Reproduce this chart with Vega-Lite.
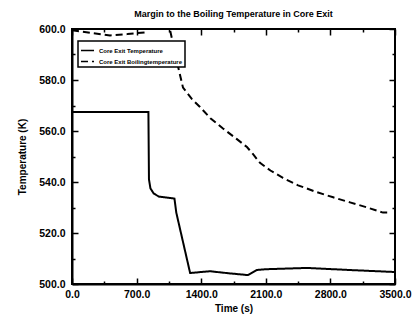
{
  "$schema": "https://vega.github.io/schema/vega-lite/v6.json",
  "autosize": "none",
  "width": 323,
  "height": 255,
  "padding": {"left": 72, "top": 29, "right": 19, "bottom": 36},
  "background": "white",
  "title": {"text": "Margin to the Boiling Temperature in Core Exit", "font": "Liberation Sans", "fontSize": 9, "fontWeight": "bold", "color": "black", "offset": -5, "anchor": "middle", "frame": "group"},
  "config": {
    "view": {"stroke": "black", "strokeWidth": 2},
    "legend": {"strokeColor": "black", "strokeWidth": 1.5},
    "axis": {"grid": false, "domainColor": "black", "domainWidth": 2, "tickColor": "black", "tickWidth": 1.5, "labelColor": "black", "labelFont": "Liberation Sans", "labelFontWeight": "bold", "labelFontSize": 10.5, "titleFont": "Liberation Sans", "titleFontWeight": "bold", "titleFontSize": 10, "titleColor": "black"}
  },
  "datasets": {
    "curves": [
      {"t": 0, "T": 567.5, "s": "Core Exit Temperature"},
      {"t": 828, "T": 567.5, "s": "Core Exit Temperature"},
      {"t": 834, "T": 541, "s": "Core Exit Temperature"},
      {"t": 850, "T": 537.5, "s": "Core Exit Temperature"},
      {"t": 885, "T": 535.5, "s": "Core Exit Temperature"},
      {"t": 940, "T": 534.3, "s": "Core Exit Temperature"},
      {"t": 1000, "T": 534, "s": "Core Exit Temperature"},
      {"t": 1110, "T": 533.5, "s": "Core Exit Temperature"},
      {"t": 1130, "T": 528, "s": "Core Exit Temperature"},
      {"t": 1280, "T": 504.3, "s": "Core Exit Temperature"},
      {"t": 1400, "T": 504.7, "s": "Core Exit Temperature"},
      {"t": 1495, "T": 505, "s": "Core Exit Temperature"},
      {"t": 1700, "T": 504.2, "s": "Core Exit Temperature"},
      {"t": 1907, "T": 503.5, "s": "Core Exit Temperature"},
      {"t": 2004, "T": 505.5, "s": "Core Exit Temperature"},
      {"t": 2100, "T": 505.8, "s": "Core Exit Temperature"},
      {"t": 2546, "T": 506.3, "s": "Core Exit Temperature"},
      {"t": 3000, "T": 505.5, "s": "Core Exit Temperature"},
      {"t": 3500, "T": 504.7, "s": "Core Exit Temperature"},
      {"t": 0, "T": 599.5, "s": "Core Exit Boilingtemperature"},
      {"t": 200, "T": 598.5, "s": "Core Exit Boilingtemperature"},
      {"t": 412, "T": 597.5, "s": "Core Exit Boilingtemperature"},
      {"t": 600, "T": 598, "s": "Core Exit Boilingtemperature"},
      {"t": 800, "T": 598.7, "s": "Core Exit Boilingtemperature"},
      {"t": 825, "T": 604, "s": "Core Exit Boilingtemperature"},
      {"t": 950, "T": 606, "s": "Core Exit Boilingtemperature"},
      {"t": 1060, "T": 600, "s": "Core Exit Boilingtemperature"},
      {"t": 1138, "T": 587, "s": "Core Exit Boilingtemperature"},
      {"t": 1203, "T": 577, "s": "Core Exit Boilingtemperature"},
      {"t": 1300, "T": 572.5, "s": "Core Exit Boilingtemperature"},
      {"t": 1387, "T": 569.4, "s": "Core Exit Boilingtemperature"},
      {"t": 1500, "T": 565, "s": "Core Exit Boilingtemperature"},
      {"t": 1636, "T": 561, "s": "Core Exit Boilingtemperature"},
      {"t": 1780, "T": 557, "s": "Core Exit Boilingtemperature"},
      {"t": 1896, "T": 553.7, "s": "Core Exit Boilingtemperature"},
      {"t": 1960, "T": 551, "s": "Core Exit Boilingtemperature"},
      {"t": 2037, "T": 547.5, "s": "Core Exit Boilingtemperature"},
      {"t": 2150, "T": 544.5, "s": "Core Exit Boilingtemperature"},
      {"t": 2286, "T": 541.6, "s": "Core Exit Boilingtemperature"},
      {"t": 2450, "T": 538.7, "s": "Core Exit Boilingtemperature"},
      {"t": 2654, "T": 536, "s": "Core Exit Boilingtemperature"},
      {"t": 2830, "T": 534, "s": "Core Exit Boilingtemperature"},
      {"t": 3012, "T": 532, "s": "Core Exit Boilingtemperature"},
      {"t": 3200, "T": 530, "s": "Core Exit Boilingtemperature"},
      {"t": 3370, "T": 528, "s": "Core Exit Boilingtemperature"},
      {"t": 3445, "T": 528, "s": "Core Exit Boilingtemperature"}
    ]
  },
  "data": {"name": "curves"},
  "layer": [
    {
      "mark": {"type": "line", "color": "black", "strokeWidth": 2, "clip": true},
      "encoding": {
        "x": {"field": "t", "type": "quantitative", "scale": {"domain": [0, 3500], "nice": false},
          "axis": {"orient": "bottom", "title": "Time (s)", "titlePadding": 1, "values": [0, 350, 700, 1050, 1400, 1750, 2100, 2450, 2800, 3150, 3500],
            "labelExpr": "datum.value % 700 === 0 ? format(datum.value, '.1f') : ''",
            "tickSize": {"condition": {"test": "datum.value % 700 === 0", "value": -6}, "value": -3},
            "labelPadding": 11, "labelOverlap": false, "labelFlush": false}},
        "y": {"field": "T", "type": "quantitative", "scale": {"domain": [500, 600], "nice": false, "zero": false},
          "axis": {"orient": "left", "title": "Temperature (K)", "titlePadding": 11, "values": [500, 510, 520, 530, 540, 550, 560, 570, 580, 590, 600],
            "labelExpr": "datum.value % 20 === 0 ? format(datum.value, '.1f') : ''",
            "tickSize": {"condition": {"test": "datum.value % 20 === 0", "value": -6}, "value": -3},
            "labelPadding": 13, "labelOverlap": false}},
        "strokeDash": {"field": "s", "type": "nominal",
          "scale": {"domain": ["Core Exit Temperature", "Core Exit Boilingtemperature"], "range": [[1, 0], [7, 4]]},
          "legend": {"title": null, "orient": "none", "legendX": 6, "legendY": 12, "direction": "vertical",
            "strokeColor": "black", "fillColor": "white", "padding": 2, "rowPadding": -3, "offset": 0,
            "symbolType": "stroke", "symbolSize": 170, "symbolStrokeColor": "black", "symbolStrokeWidth": 1.5,
            "labelFont": "Liberation Sans", "labelFontWeight": "bold", "labelFontSize": 6, "labelColor": "black", "labelLimit": 200}}
      }
    },
    {
      "mark": {"type": "line", "opacity": 0},
      "encoding": {
        "x": {"field": "t", "type": "quantitative", "axis": {"orient": "top", "title": null, "labels": false, "domain": false, "values": [0, 350, 700, 1050, 1400, 1750, 2100, 2450, 2800, 3150, 3500], "tickSize": {"condition": {"test": "datum.value % 700 === 0", "value": -6}, "value": -3}}},
        "y": {"field": "T", "type": "quantitative", "axis": {"orient": "right", "title": null, "labels": false, "domain": false, "values": [500, 510, 520, 530, 540, 550, 560, 570, 580, 590, 600], "tickSize": {"condition": {"test": "datum.value % 20 === 0", "value": -6}, "value": -3}}}
      }
    }
  ]
}
